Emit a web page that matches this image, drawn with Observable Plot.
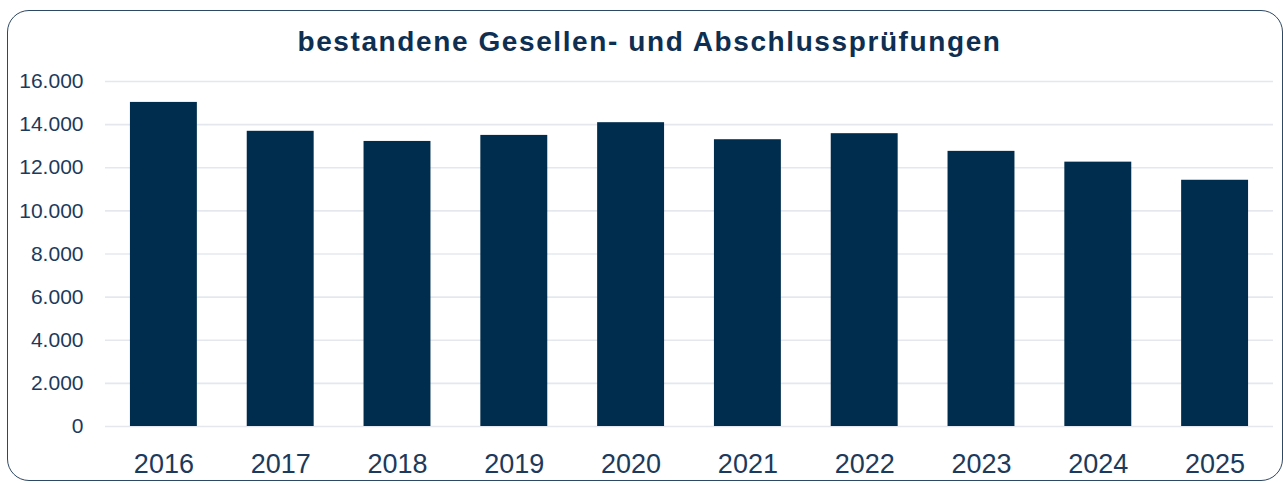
<!DOCTYPE html>
<html>
<head>
<meta charset="utf-8">
<script src="https://cdn.jsdelivr.net/npm/d3@7"></script>
<script src="https://cdn.jsdelivr.net/npm/@observablehq/plot@0.6"></script>
<style>
  html, body { margin: 0; padding: 0; background: #fff; }
  body { position: relative; width: 1283px; height: 483px; overflow: hidden; font-family: "Liberation Sans", Arial, sans-serif; }
  .frame { position: absolute; left: 7px; top: 10px; width: 1276px; height: 471px; border: 1.6px solid #2d4863; border-radius: 22px; box-sizing: border-box; }
  .title { position: absolute; left: 0; top: 26px; width: 1299px; text-align: center; font-weight: bold; font-size: 28px; letter-spacing: 1.6px; color: #0e2f52; line-height: 32px; white-space: nowrap; }
  #chart { position: absolute; left: 0; top: 0; }
</style>
</head>
<body>
<div class="frame"></div>
<div class="title">bestandene Gesellen- und Abschlussprüfungen</div>
<div id="chart"></div>
<script>
const years = ["2016","2017","2018","2019","2020","2021","2022","2023","2024","2025"];
const values = [15030, 13690, 13220, 13500, 14090, 13300, 13580, 12760, 12260, 11420];
const yTicks = [0, 2000, 4000, 6000, 8000, 10000, 12000, 14000, 16000];

const data = years.map((year, i) => ({year, value: values[i]}));
const fmt = d => d3.format(",")(d).replace(/,/g, ".");

const chart = Plot.plot({
  width: 1283,
  height: 483,
  marginTop: 81,
  marginBottom: 57,
  marginLeft: 105,
  marginRight: 10,
  style: {fontFamily: "'Liberation Sans', Arial, sans-serif", color: "#1b3a5c", background: "transparent", overflow: "visible"},
  x: {domain: years, paddingInner: 0.427, paddingOuter: 0.2135, round: false, label: null},
  y: {domain: [0, 16000], ticks: yTicks, label: null},
  marks: [
    Plot.gridY(yTicks, {stroke: "#e4e8ee", strokeOpacity: 1, strokeWidth: 1.6}),
    Plot.barY(data, {x: "year", y: "value", fill: "#002d4d"}),
    Plot.axisY(yTicks, {tickSize: 0, tickPadding: 22, tickFormat: fmt, fontSize: 21, fill: "#1b3a5c"}),
    Plot.axisX({tickSize: 0, tickPadding: 27, fontSize: 27, fill: "#1b3a5c"})
  ]
});
document.getElementById("chart").appendChild(chart);
</script>
</body>
</html>
